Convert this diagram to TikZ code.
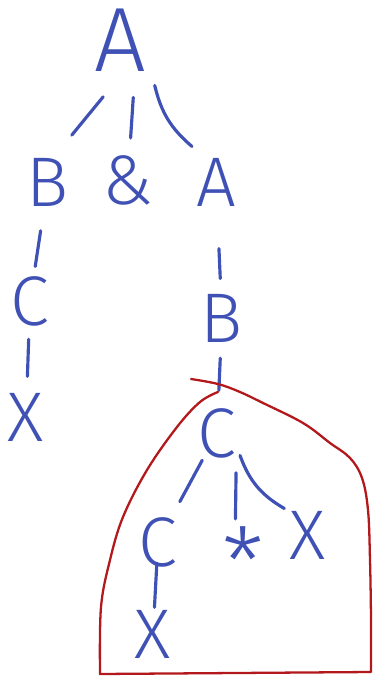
\documentclass[tikz,border=0pt]{standalone}
\usepackage{fontspec}
\setmainfont{Fira Sans Light}
\usepackage{xcolor}
\usepackage{tikz}
\usetikzlibrary{calc}
\definecolor{penblue}{RGB}{63, 81, 181}
\definecolor{penred}{RGB}{178, 24, 28}

\begin{document}
\begin{tikzpicture}[x=0.02cm, y=-0.02cm,
    letter/.style={inner sep=0pt, text=penblue, font=\fontsize{40}{40}\selectfont},
    edge/.style={penblue, line width=1.8pt, line cap=round},
    region/.style={penred, line width=1.3pt, line cap=round, line join=round}]
    \useasboundingbox (0,0) rectangle (373,678);

    % Root
    \node[letter, font=\fontsize{52}{52}\selectfont] (rootA) at (120,40) {A};

    % First level
    \node[letter] (leftB) at (48,182) {B};
    \node[letter] (amp) at (128,180) {\&};
    \node[letter] (rightA) at (216,182) {A};

    % Left chain
    \node[letter] (leftC) at (30,301) {C};
    \node[letter] (leftX) at (26,417) {X};

    % Right chain
    \node[letter] (rightB) at (222,318) {B};
    \node[letter] (topC) at (217,433) {C};

    % Inside the red region
    \node[letter] (lowC) at (158,542) {C};
    \node[letter, font=\fontsize{54}{54}\selectfont, anchor=north] (star) at (243,526) {*};
    \node[letter] (rightX) at (308,535) {X};
    \node[letter] (lowX) at (153,634) {X};

    % Connectors
    \draw[edge] ($(rootA)!0.40!(leftB)+(12,0)$) -- ($(rootA)!0.67!(leftB)$);
    \draw[edge] ($(rootA)!0.41!(amp)+(10,0)$) -- ($(rootA)!0.70!(amp)+(5,0)$);
    \draw[edge] ($(rootA)!0.32!(rightA)+(4,0)$) to[bend right=18] ($(rootA)!0.75!(rightA)$);
    \draw[edge] ($(leftB)!0.41!(leftC)$) -- ($(leftB)!0.71!(leftC)$);
    \draw[edge] ($(leftC)!0.33!(leftX)$) -- ($(leftC)!0.65!(leftX)$);
    \draw[edge] ($(rightA)!0.49!(rightB)$) -- ($(rightA)!0.71!(rightB)$);
    \draw[edge] ($(rightB)!0.35!(topC)$) -- ($(rightB)!0.63!(topC)$);
    \draw[edge] ($(topC)!0.25!(lowC)$) -- ($(topC)!0.63!(lowC)$);
    \draw[edge] ($(topC)!0.31!(star.center)+(11,0)$) -- ($(topC)!0.67!(star.center)+(1,0)$);
    \draw[edge] ($(topC)!0.22!(rightX)+(3,0)$) to[bend right=20] ($(topC)!0.74!(rightX)$);
    \draw[edge] ($(lowC)!0.23!(lowX)$) -- ($(lowC)!0.71!(lowX)$);

    % Red region
    \draw[region] plot[smooth, tension=0.6] coordinates {(191,379) (218,384) (240,392) (263,403) (303,423) (330,443) (350,458) (362,478) (368,510) (370,560) (371,620) (371,672)}
        -- (100,674)
        -- plot[smooth, tension=0.6] coordinates {(100,672) (101,607) (110,560) (123,517) (147,470) (177,427) (200,402) (218,392)};
\end{tikzpicture}
\end{document}
